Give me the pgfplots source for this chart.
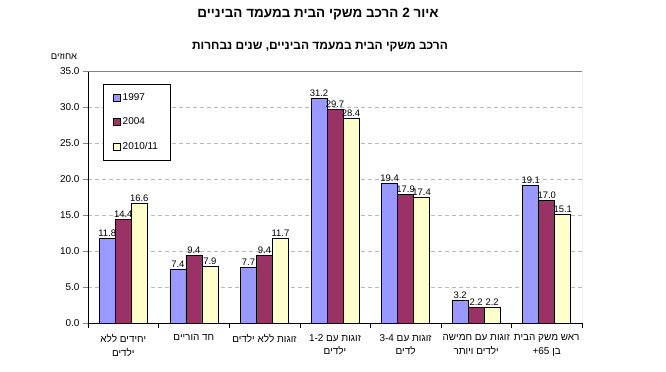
\documentclass[border=0pt]{standalone}
\usepackage{pgfplots}
\pgfplotsset{compat=1.18}
\usepackage{fontspec}
\setmainfont{Liberation Sans}
\newfontfamily\heb[Script=Hebrew]{Liberation Sans}
\TeXXeTstate=1
\definecolor{c1}{HTML}{9999FF}
\definecolor{c2}{HTML}{993366}
\definecolor{c3}{HTML}{FFFFCC}
\pgfplotstableread{
x a b c
0 11.8 14.4 16.6
1 7.4 9.4 7.9
2 7.7 9.4 11.7
3 31.2 29.7 28.4
4 19.4 17.9 17.4
5 3.2 2.2 2.2
6 19.1 17.0 15.1
}\datatable
\begin{document}
\begin{tikzpicture}[x=1bp,y=1bp]
\useasboundingbox (0,0) rectangle (666,371);
\begin{axis}[at={(88bp,48bp)}, anchor=south west, scale only axis,
  width=494bp, height=252bp,
  ybar=0pt, bar width=16bp,
  xmin=-0.5, xmax=6.5, ymin=0, ymax=35,
  axis x line*=bottom, axis y line*=left,
  axis line style={black,-},
  xtick={0,...,6},
  xticklabels={
    {\beginR יחידים ללא\endR\\\beginR ילדים\endR},
    {\beginR חד הוריים\endR},
    {\beginR זוגות ללא ילדים\endR},
    {\beginR זוגות עם \beginL 1-2\endL\endR\\\beginR ילדים\endR},
    {\beginR זוגות עם \beginL 3-4\endL\endR\\\beginR לדים\endR},
    {\beginR זוגות עם חמישה\endR\\\beginR ילדים ויותר\endR},
    {\beginR ראש משק הבית\endR\\\beginR בן \beginL 65\endL+\endR}},
  major x tick style={draw=none},
  minor xtick={-0.5,0.5,...,6.5},
  minor x tick style={black},
  minor tick length=5bp,
  major tick length=5bp,
  tick align=outside,
  xticklabel style={font=\heb\fontsize{10}{13.5}\selectfont, align=center, yshift=-3bp},
  ytick={0,5,...,35},
  yticklabel style={font=\fontsize{10}{11}\selectfont},
  yticklabel={\pgfmathprintnumber[fixed,fixed zerofill,precision=1]{\tick}},
  /pgf/number format/assume math mode=true,
  ymajorgrids, grid style={gray!55, dash pattern=on 4bp off 3bp},
  nodes near coords={\pgfmathprintnumber[fixed,fixed zerofill,precision=1,assume math mode=true]{\pgfplotspointmeta}},
  every node near coord/.append style={font=\fontsize{9.5}{10}\selectfont, inner sep=1.5bp, black},
  legend style={at={(0.03,0.948)}, anchor=north west, draw=black,
    font=\fontsize{10}{11}\selectfont, row sep=12bp, inner xsep=10bp, inner ysep=7bp,
    cells={anchor=west}},
  legend image code/.code={\draw[#1,draw=black] (0bp,-3.5bp) rectangle (7bp,3.5bp);},
]
\addplot[fill=c1, draw=black, line width=0.7bp] table[x=x,y=a]{\datatable};
\addplot[fill=c2, draw=black, line width=0.7bp] table[x=x,y=b]{\datatable};
\addplot[fill=c3, draw=black, line width=0.7bp] table[x=x,y=c]{\datatable};
\legend{1997,2004,2010/11}
\draw[gray, line width=0.6bp] (rel axis cs:0,1) -- (rel axis cs:1,1) -- (rel axis cs:1,0);
\end{axis}
\node[font=\heb\bfseries\fontsize{13.5}{15}\selectfont] at (318,357) {\beginR איור 2 הרכב משקי הבית במעמד הביניים\endR};
\node[font=\heb\bfseries\fontsize{12}{14}\selectfont] at (320,324) {\beginR הרכב משקי הבית במעמד הביניים, שנים נבחרות\endR};
\node[font=\heb\fontsize{9.5}{10}\selectfont] at (64,314) {\beginR אחוזים\endR};
\end{tikzpicture}
\end{document}
